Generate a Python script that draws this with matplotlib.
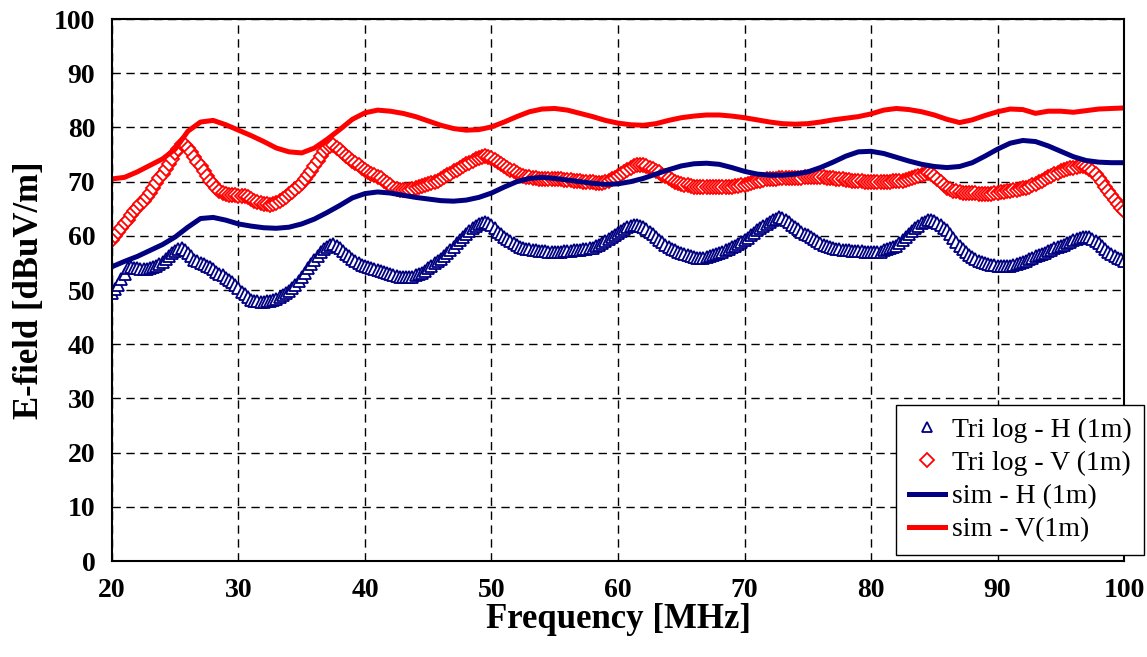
import numpy as np
import matplotlib.pyplot as plt

plt.rcParams['font.family'] = ['Liberation Serif', 'DejaVu Serif']

# measured points, 0.25 MHz step from 20 to 100 MHz
freq_meas = np.arange(20, 100.001, 0.25)

tri_h = [
    49.5, 50.2, 51.0, 52.0, 53.0, 54.0, 54.2, 54.1, 54.0, 53.9, 53.8, 53.9, 54.0, 54.2, 54.5, 54.8, 55.2, 55.7, 56.3, 56.8,
    57.2, 57.6, 57.8, 57.4, 56.8, 56.2, 55.6, 55.3, 55.0, 54.8, 54.5, 54.2, 53.8, 53.4, 53.0, 52.7, 52.3, 51.9, 51.5, 50.9,
    50.3, 49.7, 49.2, 48.7, 48.2, 48.0, 47.9, 47.8, 47.8, 47.9, 48.0, 48.2, 48.4, 48.7, 49.0, 49.4, 49.8, 50.4, 51.0, 51.7,
    52.5, 53.2, 54.0, 54.8, 55.5, 56.3, 57.0, 57.6, 58.0, 58.3, 58.5, 58.2, 57.8, 57.2, 56.7, 56.2, 55.7, 55.3, 55.0, 54.7,
    54.5, 54.3, 54.1, 53.9, 53.7, 53.5, 53.3, 53.1, 52.9, 52.7, 52.6, 52.5, 52.4, 52.4, 52.4, 52.5, 52.7, 52.9, 53.2, 53.6,
    54.0, 54.5, 55.0, 55.4, 55.8, 56.3, 56.8, 57.4, 58.0, 58.6, 59.2, 59.7, 60.3, 60.9, 61.5, 61.9, 62.2, 62.4, 62.6, 62.4,
    62.0, 61.4, 60.8, 60.3, 59.8, 59.4, 59.0, 58.6, 58.3, 58.0, 57.8, 57.6, 57.5, 57.4, 57.3, 57.2, 57.2, 57.2, 57.1, 57.1,
    57.1, 57.1, 57.1, 57.2, 57.2, 57.2, 57.3, 57.3, 57.4, 57.5, 57.6, 57.7, 57.8, 58.1, 58.4, 58.7, 59.0, 59.4, 59.8, 60.1,
    60.5, 60.9, 61.3, 61.6, 61.9, 62.0, 62.0, 61.9, 61.6, 61.2, 60.8, 60.3, 59.8, 59.3, 58.8, 58.4, 58.0, 57.6, 57.3, 57.0,
    56.8, 56.6, 56.4, 56.2, 56.1, 56.0, 56.0, 56.0, 56.1, 56.2, 56.4, 56.6, 56.8, 57.0, 57.3, 57.6, 57.9, 58.2, 58.5, 58.8,
    59.2, 59.6, 60.1, 60.5, 61.0, 61.4, 61.8, 62.2, 62.6, 62.9, 63.2, 63.4, 63.3, 62.9, 62.5, 62.0, 61.6, 61.2, 60.8, 60.4,
    60.1, 59.7, 59.4, 59.0, 58.7, 58.4, 58.2, 58.0, 57.8, 57.6, 57.5, 57.4, 57.3, 57.3, 57.2, 57.2, 57.2, 57.2, 57.1, 57.1,
    57.1, 57.0, 57.0, 57.1, 57.3, 57.5, 57.7, 57.9, 58.2, 58.7, 59.2, 59.7, 60.3, 60.9, 61.4, 61.9, 62.3, 62.6, 62.9, 63.0,
    62.8, 62.4, 62.0, 61.5, 61.0, 60.3, 59.6, 58.9, 58.2, 57.6, 57.0, 56.5, 56.1, 55.7, 55.4, 55.2, 55.0, 54.8, 54.7, 54.6,
    54.5, 54.4, 54.4, 54.4, 54.5, 54.6, 54.8, 55.0, 55.2, 55.4, 55.7, 55.9, 56.2, 56.4, 56.7, 56.9, 57.2, 57.4, 57.7, 57.9,
    58.2, 58.4, 58.7, 58.9, 59.2, 59.4, 59.6, 59.7, 59.8, 59.7, 59.5, 59.1, 58.6, 58.1, 57.6, 57.1, 56.7, 56.3, 56.0, 55.7,
    55.4,
]

tri_v = [
    59.3, 60.0, 60.8, 61.5, 62.3, 63.0, 63.8, 64.5, 65.2, 65.8, 66.5, 67.2, 68.0, 68.8, 69.7, 70.6, 71.5, 72.4, 73.3, 74.2,
    75.2, 76.1, 77.0, 76.8, 76.2, 75.4, 74.5, 73.7, 72.8, 71.9, 71.0, 70.2, 69.5, 68.9, 68.3, 68.0, 67.7, 67.6, 67.5, 67.5,
    67.4, 67.4, 67.3, 67.1, 66.8, 66.5, 66.3, 66.1, 65.9, 65.8, 65.7, 65.8, 66.0, 66.4, 66.8, 67.2, 67.7, 68.1, 68.6, 69.2,
    69.8, 70.5, 71.2, 72.0, 72.9, 73.9, 74.8, 75.6, 76.2, 76.6, 76.8, 76.3, 75.8, 75.3, 74.8, 74.3, 73.9, 73.4, 73.0, 72.6,
    72.2, 71.8, 71.5, 71.2, 70.9, 70.6, 70.2, 69.7, 69.3, 68.9, 68.6, 68.5, 68.4, 68.4, 68.5, 68.7, 68.9, 69.0, 69.2, 69.4,
    69.6, 69.8, 70.0, 70.2, 70.5, 70.8, 71.2, 71.5, 71.9, 72.2, 72.6, 72.9, 73.2, 73.5, 73.8, 74.1, 74.4, 74.6, 74.7, 74.6,
    74.4, 74.0, 73.6, 73.2, 72.9, 72.5, 72.2, 71.9, 71.6, 71.3, 71.1, 70.9, 70.8, 70.7, 70.6, 70.5, 70.5, 70.5, 70.5, 70.4,
    70.4, 70.4, 70.4, 70.3, 70.3, 70.3, 70.2, 70.2, 70.1, 70.0, 70.0, 69.9, 69.9, 69.8, 69.8, 69.8, 70.0, 70.2, 70.4, 70.7,
    71.0, 71.4, 71.8, 72.2, 72.6, 72.8, 73.0, 73.0, 73.0, 72.8, 72.6, 72.3, 72.0, 71.7, 71.3, 71.0, 70.6, 70.3, 70.0, 69.8,
    69.6, 69.4, 69.3, 69.2, 69.1, 69.1, 69.0, 69.0, 69.0, 69.0, 69.0, 69.0, 69.0, 69.0, 69.0, 69.1, 69.1, 69.2, 69.2, 69.3,
    69.4, 69.6, 69.8, 70.0, 70.1, 70.2, 70.3, 70.4, 70.5, 70.5, 70.5, 70.6, 70.6, 70.6, 70.6, 70.7, 70.7, 70.7, 70.7, 70.8,
    70.8, 70.8, 70.8, 70.8, 70.8, 70.8, 70.7, 70.7, 70.6, 70.5, 70.4, 70.4, 70.3, 70.3, 70.2, 70.2, 70.1, 70.1, 70.0, 70.0,
    70.0, 70.0, 70.0, 70.0, 70.0, 70.0, 70.0, 70.1, 70.1, 70.2, 70.2, 70.3, 70.4, 70.6, 70.8, 71.0, 71.3, 71.5, 71.6, 71.4,
    71.0, 70.5, 70.0, 69.4, 68.9, 68.6, 68.3, 68.2, 68.1, 68.0, 68.0, 67.9, 67.9, 67.9, 67.8, 67.8, 67.8, 67.8, 67.8, 67.9,
    68.0, 68.1, 68.1, 68.2, 68.3, 68.4, 68.5, 68.6, 68.8, 68.9, 69.1, 69.3, 69.6, 69.9, 70.2, 70.5, 70.8, 71.1, 71.4, 71.6,
    71.9, 72.1, 72.3, 72.5, 72.6, 72.7, 72.8, 72.8, 72.7, 72.4, 72.0, 71.4, 70.7, 69.9, 69.1, 68.3, 67.5, 66.7, 65.9, 65.2,
    64.5,
]

# simulation, 1 MHz step
freq_sim = np.arange(20, 101, 1)

sim_h = [
    54.3, 55.3, 56.2, 57.3, 58.4, 59.8, 61.6, 63.2, 63.4, 62.9,
    62.2, 61.8, 61.5, 61.4, 61.6, 62.2, 63.1, 64.3, 65.6, 67.0,
    67.8, 68.1, 67.9, 67.5, 67.1, 66.8, 66.5, 66.4, 66.6, 67.1,
    67.9, 69.0, 70.0, 70.6, 70.8, 70.6, 70.3, 70.0, 69.7, 69.5,
    69.6, 70.0, 70.6, 71.4, 72.2, 72.9, 73.3, 73.4, 73.2, 72.6,
    71.9, 71.4, 71.2, 71.2, 71.4, 71.8, 72.6, 73.6, 74.7, 75.5,
    75.6, 75.2, 74.5, 73.8, 73.2, 72.8, 72.6, 72.8, 73.5, 74.7,
    76.0, 77.1, 77.6, 77.4, 76.6, 75.6, 74.6, 73.9, 73.6, 73.5,
    73.5,
]

sim_v = [
    70.5, 70.8, 71.8, 73.0, 74.2, 76.0, 79.3, 81.0, 81.3, 80.5,
    79.5, 78.5, 77.4, 76.2, 75.5, 75.3, 76.2, 77.8, 79.6, 81.5,
    82.7, 83.2, 83.0, 82.6, 82.0, 81.2, 80.4, 79.8, 79.5, 79.6,
    80.1, 81.0, 82.0, 82.9, 83.4, 83.5, 83.2, 82.6, 82.0, 81.3,
    80.8, 80.5, 80.4, 80.7, 81.3, 81.8, 82.1, 82.3, 82.3, 82.1,
    81.8, 81.4, 81.0, 80.7, 80.6, 80.7, 81.0, 81.4, 81.7, 82.0,
    82.5, 83.2, 83.5, 83.3, 82.9, 82.3, 81.5, 80.9, 81.4, 82.2,
    82.9, 83.4, 83.3, 82.6, 83.0, 83.0, 82.8, 83.1, 83.4, 83.5,
    83.6,
]

navy = '#000080'
red = '#ff0000'

fig = plt.figure(figsize=(11.47, 6.57), dpi=100)
ax = fig.add_axes([0.0976, 0.146, 0.8824, 0.825])

ax.plot(freq_meas, tri_h, '^', ms=9, mfc='white', mec=navy, mew=1.3,
        label='Tri log - H (1m)')
ax.plot(freq_meas, tri_v, 'D', ms=7.5, mfc='white', mec=red, mew=1.3,
        label='Tri log - V (1m)')
ax.plot(freq_sim, sim_h, '-', color=navy, lw=3.6, label='sim - H (1m)')
ax.plot(freq_sim, sim_v, '-', color=red, lw=3.6, label='sim - V(1m)')

ax.set_xlim(20, 100)
ax.set_ylim(0, 100)
ax.set_xticks(range(20, 101, 10))
ax.set_yticks(range(0, 101, 10))
ax.grid(True, color='black', linestyle=(0, (6, 4)), linewidth=1)
for s in ax.spines.values():
    s.set_linewidth(1.5)
ax.tick_params(length=0, labelsize=20, pad=12)
for lbl in ax.get_xticklabels() + ax.get_yticklabels():
    lbl.set_fontweight('bold')

ax.set_xlabel('Frequency [MHz]', fontsize=25, fontweight='bold', labelpad=0)
ax.set_ylabel('E-field [dBuV/m]', fontsize=25, fontweight='bold', labelpad=6)

leg = ax.legend(loc='lower left', bbox_to_anchor=(0.775, 0.011), fontsize=20,
                frameon=True, fancybox=False, edgecolor='black', framealpha=1,
                handlelength=1.3, handletextpad=0.25, borderpad=0.45,
                labelspacing=0.28, borderaxespad=0)
leg.get_frame().set_linewidth(1)
for h in leg.legend_handles[:2]:
    h.set_markersize(7)

fig.savefig('out.png', dpi=100)
